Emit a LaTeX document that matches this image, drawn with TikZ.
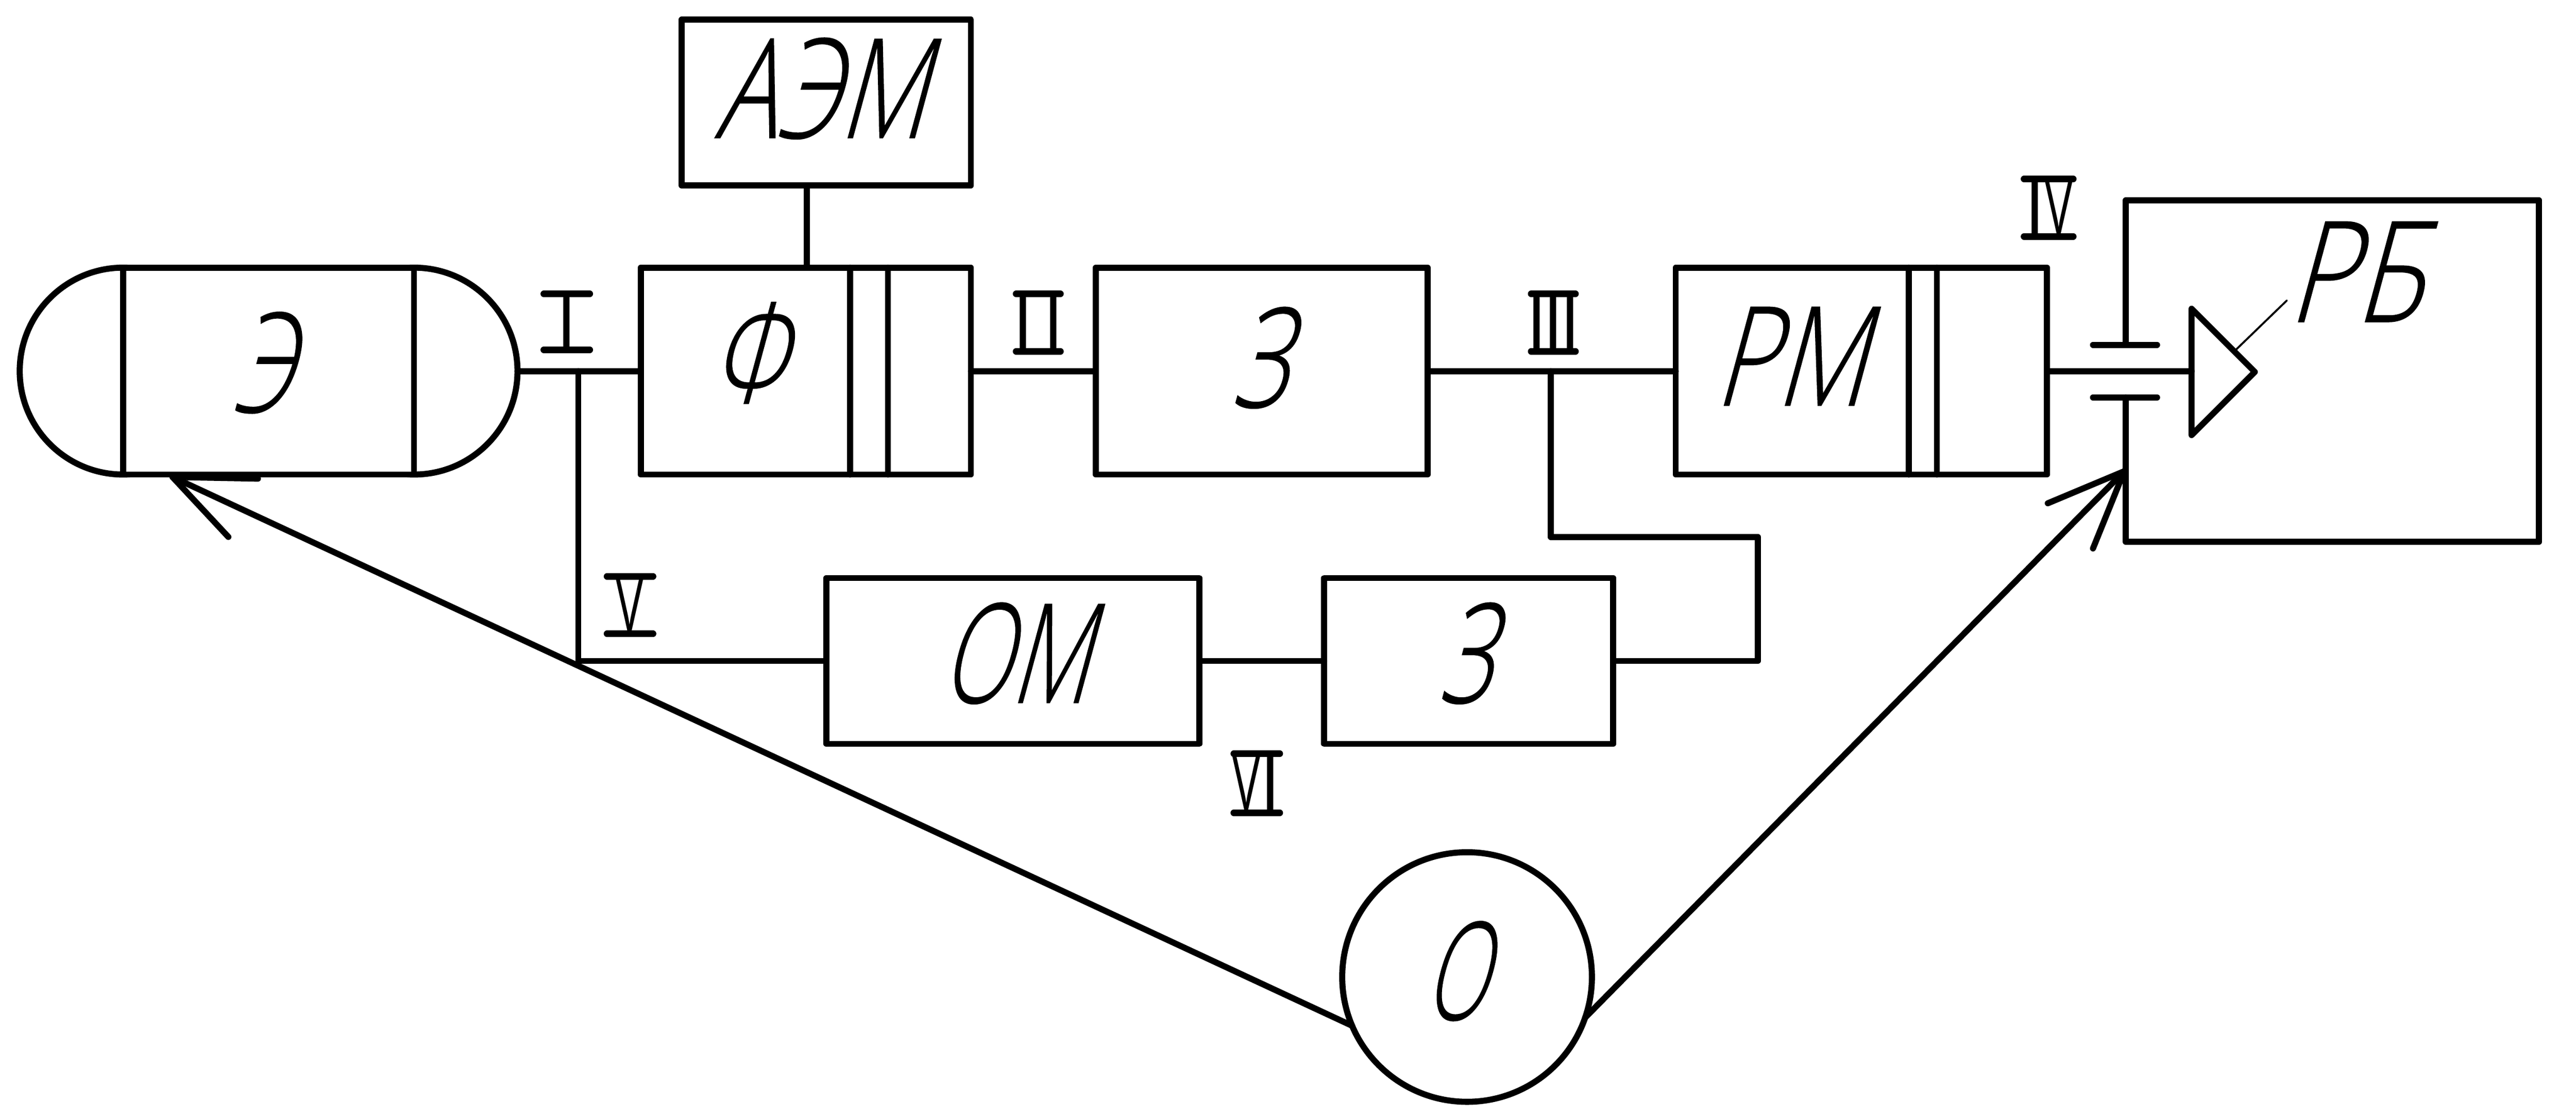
\documentclass[tikz,border=0pt]{standalone}
\usepackage{graphicx}
\usepackage{fontspec}
\newfontfamily\gost[FakeBold=0.6]{Open Sans Light}
\newfontfamily\romfont{Open Sans}
\newlength\uu \setlength\uu{0.01cm}
\tikzset{
  ln/.style={line width=0.037cm,line cap=round,line join=round},
  box/.style 2 args={draw,ln,inner sep=0pt,outer sep=0pt,minimum width=#1*0.01cm,minimum height=#2*0.01cm},
  ball/.style={draw,ln,circle,inner sep=0pt,outer sep=0pt,minimum size=#1*0.01cm},
  thinln/.style={line width=0.012cm,line cap=round},
  txt/.style={inner sep=0pt,outer sep=0pt,anchor=base west,transform shape},
  romtxt/.style={inner sep=0pt,outer sep=0pt,font=\romfont\fontsize{13}{13}\selectfont},
  barln/.style={line width=0.04cm,line cap=round}
}
% name, ink left, baseline y, width, height, text
\newcommand{\gl}[6]{\begin{scope}[shift={(#2,#3)},xslant=0.27]
  \node[txt] (#1) at (0,0) {\resizebox{#4\uu}{#5\uu}{\gost #6}};
\end{scope}}
% name, centre x, top y, bottom y, half bar width, text
\newcommand{\rom}[6]{%
  \node[romtxt] (#1) at (#2,{(#3+#4)/2}) {#6};
  \draw[barln] ({#2-#5},#3) -- ({#2+#5},#3);
  \draw[barln] ({#2-#5},#4) -- ({#2+#5},#4);}
\newcommand{\vv}{\scalebox{.62}[1]{V}}
\begin{document}
\begin{tikzpicture}[x=0.01cm,y=-0.01cm]
\useasboundingbox (0,0) rectangle (1568,681.2);
\fill[white] (0,0) rectangle (1568,681.2);
% blocks
\node[ball=126] (EL) at (75,226) {};
\node[ball=126] (ER) at (252,226) {};
\node[box={177}{126},fill=white] (E) at (163.5,226) {};
\node[box={176}{101}] (AEM) at (503,62.5) {};
\node[box={201}{126}] (F) at (490.5,226) {};
\node[box={202}{126}] (Z1) at (768,226) {};
\node[box={226}{126}] (RM) at (1133,226) {};
\node[box={227}{101}] (OM) at (616.5,402.5) {};
\node[box={176}{101}] (Z2) at (894,402.5) {};
\node[ball=152] (O) at (893,595) {};
% inner verticals
\draw[ln] (517.5,0 |- F.north) -- (517.5,0 |- F.south);
\draw[ln] (540.5,0 |- F.north) -- (540.5,0 |- F.south);
\draw[ln] (1162,0 |- RM.north) -- (1162,0 |- RM.south);
\draw[ln] (1179,0 |- RM.north) -- (1179,0 |- RM.south);
% RB frame with gap and bars
\coordinate (RBt) at (1294,210);
\coordinate (RBb) at (1294,242);
\draw[ln] (RBt) |- (1545.5,122) |- (1294,330) -- (RBb);
\draw[ln] (1274,210) -- (1313,210);
\draw[ln] (1274,242) -- (1313,242);
% triangle
\coordinate (Ta) at (1334,188);
\coordinate (Tb) at (1334,265);
\coordinate (Tc) at (1372.5,226.5);
\coordinate (Tw) at (1334,226);
\draw[ln] (Ta) -- (Tc) -- (Tb) -- cycle;
\draw[thinln] (1361,213) -- (1392,183);
% connectors
\draw[ln] (ER.east) -- (F.west);
\draw[ln] (F.east) -- (Z1.west);
\draw[ln] (Z1.east) -- (RM.west);
\draw[ln] (RM.east) -- (Tw);
\draw[ln] (491,0 |- AEM.south) -- (491,0 |- F.north);
\coordinate (J1) at (352,226);
\coordinate (J2) at (944,226);
\draw[ln] (J1) |- (OM.west);
\draw[ln] (OM.east) -- (Z2.west);
\draw[ln] (J2) -- (944,327) -- (1070,327) |- (Z2.east);
% arrows from O
\coordinate (Tip1) at (105,290.5);
\coordinate (Tip2) at (1293,287);
\draw[ln] (O.203) -- (Tip1);
\draw[ln] (139,327) -- (Tip1) -- (157,291.5);
\draw[ln] (O.341) -- (Tip2);
\draw[ln] (1246.5,306.5) -- (Tip2) -- (1274,334);
% large labels
\gl{tAEM}{435}{84}{128}{61}{АЭМ}
\gl{tE}{141}{251}{36}{61}{Э}
\gl{tF}{432}{245}{45}{61}{Ф}
\gl{tZ1}{749}{248}{34}{61}{З}
\gl{tRM}{1043}{247}{92}{60}{РМ}
\gl{tRB}{1392}{196}{82}{61}{РБ}
\gl{tOM}{572}{428}{90}{61}{ОМ}
\gl{tZ2}{875}{428}{32}{61}{З}
\gl{tO}{866}{621}{38}{60}{О}
% roman numerals
\rom{r1}{345}{179}{213}{14}{I}
\rom{r2}{632}{179}{214}{13.5}{I\kern 0.06cm I}
\rom{r3}{945.5}{179}{214}{13.5}{I\kern -0.025cm I\kern -0.025cm I}
\rom{r4}{1247}{109}{144}{15}{I\kern -0.005cm\vv}
\rom{r5}{383.5}{351}{386}{14}{\vv}
\rom{r6}{765}{459}{495}{14}{\vv\kern -0.005cm I}
\end{tikzpicture}
\end{document}
